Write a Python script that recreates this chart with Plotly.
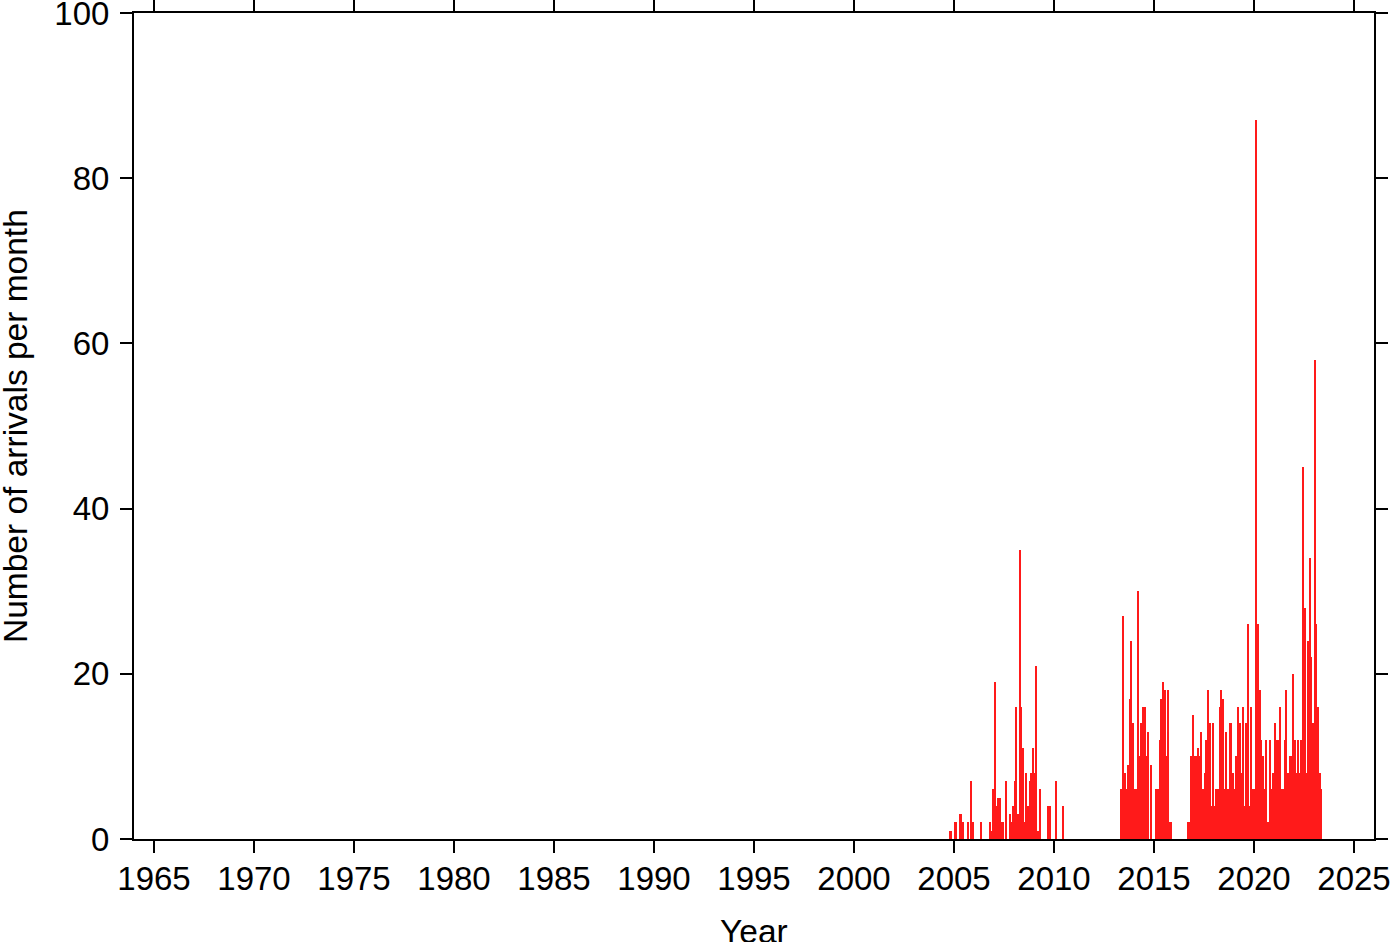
import plotly.graph_objects as go

# Monthly arrival counts (month label "YYYY-MM", count)
months = [
    "2004-10", "2004-11", "2005-01", "2005-02", "2005-04", "2005-05", "2005-06", "2005-09",
    "2005-11", "2005-12", "2006-05", "2006-10", "2006-11", "2006-12", "2007-01", "2007-02",
    "2007-03", "2007-04", "2007-05", "2007-06", "2007-08", "2007-10", "2007-11", "2007-12",
    "2008-01", "2008-02", "2008-03", "2008-04", "2008-05", "2008-06", "2008-07", "2008-08",
    "2008-09", "2008-10", "2008-11", "2008-12", "2009-01", "2009-02", "2009-03", "2009-04",
    "2009-09", "2009-10", "2010-02", "2010-06",
    "2013-05", "2013-06", "2013-07", "2013-08", "2013-09", "2013-10", "2013-11", "2013-12",
    "2014-01", "2014-02", "2014-03", "2014-04", "2014-05", "2014-06", "2014-07", "2014-08",
    "2014-09", "2014-11", "2015-02", "2015-03", "2015-04", "2015-05", "2015-06", "2015-07",
    "2015-08", "2015-09", "2015-10", "2015-11",
    "2016-09", "2016-10", "2016-11", "2016-12",
    "2017-01", "2017-02", "2017-03", "2017-04", "2017-05", "2017-06", "2017-07", "2017-08",
    "2017-09", "2017-10", "2017-11", "2017-12",
    "2018-01", "2018-02", "2018-03", "2018-04", "2018-05", "2018-06", "2018-07", "2018-08",
    "2018-09", "2018-10", "2018-11", "2018-12",
    "2019-01", "2019-02", "2019-03", "2019-04", "2019-05", "2019-06", "2019-07", "2019-08",
    "2019-09", "2019-10", "2019-11", "2019-12",
    "2020-01", "2020-02", "2020-03", "2020-04", "2020-05", "2020-06", "2020-07", "2020-08",
    "2020-09", "2020-10", "2020-11", "2020-12",
    "2021-01", "2021-02", "2021-03", "2021-04", "2021-05", "2021-06", "2021-07", "2021-08",
    "2021-09", "2021-10", "2021-11", "2021-12",
    "2022-01", "2022-02", "2022-03", "2022-04", "2022-05", "2022-06", "2022-07", "2022-08",
    "2022-09", "2022-10", "2022-11", "2022-12",
    "2023-01", "2023-02", "2023-03", "2023-04", "2023-05",
]
counts = [
    1, 1, 2, 2, 3, 3, 2, 2,
    7, 2, 2, 2, 1, 6, 19, 4,
    5, 5, 2, 2, 7, 3, 2, 4,
    7, 16, 3, 35, 16, 11, 2, 8,
    4, 7, 8, 11, 8, 21, 1, 6,
    4, 4, 7, 4,
    6, 27, 8, 6, 9, 17, 24, 14,
    6, 6, 30, 10, 14, 16, 16, 10,
    13, 9, 6, 6, 12, 17, 19, 18,
    10, 18, 2, 2,
    2, 2, 10, 15,
    10, 10, 11, 10, 13, 6, 8, 12,
    18, 14, 4, 14,
    4, 6, 6, 16, 18, 17, 6, 13,
    6, 14, 14, 8,
    6, 10, 16, 14, 8, 16, 4, 14,
    26, 4, 16, 6,
    6, 87, 26, 18, 12, 10, 6, 12,
    2, 12, 6, 8,
    14, 12, 12, 16, 6, 6, 12, 18,
    8, 10, 10, 20,
    12, 8, 12, 8, 12, 45, 28, 8,
    24, 34, 22, 14,
    58, 26, 16, 8, 6,
]

x_ticks = [1965, 1970, 1975, 1980, 1985, 1990, 1995, 2000, 2005, 2010, 2015, 2020, 2025]
y_ticks = [0, 20, 40, 60, 80, 100]

x_title = "Year"
y_title = "Number of arrivals per month"

# decimal year at month centre
xdec = [int(m[:4]) + (int(m[5:]) - 0.5) / 12 for m in months]

FONT = "Liberation Sans, Arial, Helvetica, sans-serif"

fig = go.Figure(
    go.Bar(
        x=xdec,
        y=counts,
        width=[1 / 12 * 0.85] * len(xdec),
        marker=dict(color="#ff1a1a", line=dict(width=0)),
        hoverinfo="x+y",
    )
)

axis_common = dict(
    showline=True,
    linecolor="black",
    linewidth=2,
    mirror="ticks",
    ticks="outside",
    ticklen=12,
    tickwidth=1.5,
    tickcolor="black",
    showgrid=False,
    zeroline=False,
    ticklabeloverflow="allow",
    tickfont=dict(family=FONT, size=33, color="black"),
)

fig.update_layout(
    width=1400,
    height=942,
    margin=dict(l=134, r=26, t=13, b=103, autoexpand=False),
    plot_bgcolor="white",
    paper_bgcolor="white",
    showlegend=False,
    bargap=0,
    font=dict(family=FONT, size=33, color="black"),
    xaxis=dict(
        range=[1964, 2026],
        tickvals=x_ticks,
        ticktext=[str(v) for v in x_ticks],
        ticklabelstandoff=-3,
        **axis_common,
    ),
    yaxis=dict(
        range=[0, 100],
        tickvals=y_ticks,
        ticklabelstandoff=4,
        **axis_common,
    ),
    annotations=[
        dict(
            text=y_title,
            xref="paper", yref="paper",
            x=0, y=0.5,
            xshift=15 - 134,
            xanchor="center", yanchor="middle",
            textangle=-90,
            showarrow=False,
            font=dict(family=FONT, size=33.5, color="black"),
        ),
        dict(
            text=x_title,
            xref="paper", yref="paper",
            x=0.5, y=0,
            yshift=-(931 - 839),
            xanchor="center", yanchor="middle",
            showarrow=False,
            font=dict(family=FONT, size=33.5, color="black"),
        ),
    ],
)

fig.write_html(
    "out.html",
    config={"displayModeBar": False},
    post_script="document.body.style.margin='0';",
)
